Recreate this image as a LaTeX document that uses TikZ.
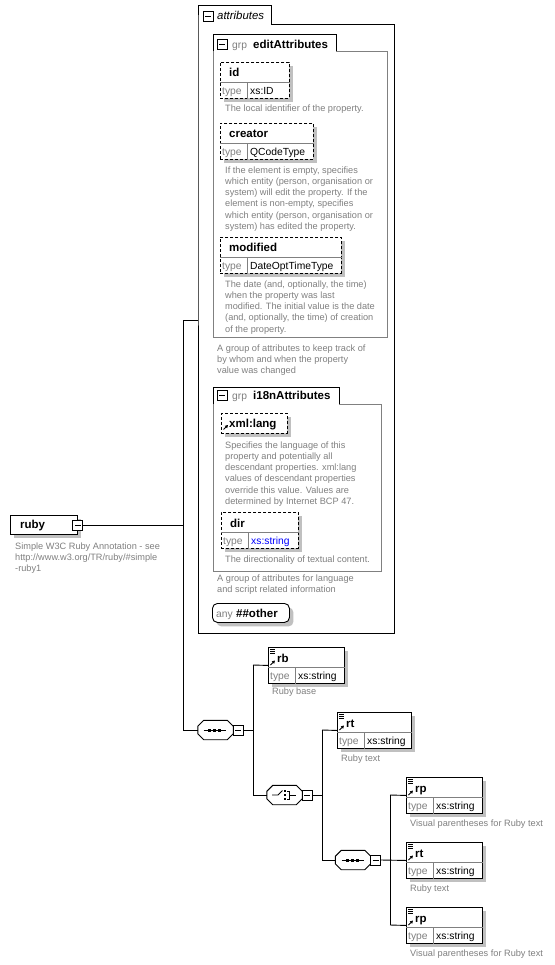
\documentclass[tikz,border=0pt]{standalone}
\usepackage{fontspec}
\setmainfont{Liberation Sans}
\usetikzlibrary{arrows.meta}
\definecolor{descgray}{RGB}{128,128,128}
\definecolor{shadowgray}{RGB}{192,192,192}
\definecolor{grpgray}{RGB}{128,128,128}
\definecolor{xsblue}{RGB}{0,0,255}
\tikzset{
  ln/.style={line width=0.9pt},
  grpline/.style={line width=0.9pt, draw=grpgray},
  divline/.style={line width=0.8pt, draw=grpgray},
  shadowed/.style={preaction={draw=none, fill=shadowgray, transform canvas={xshift=4pt,yshift=-4pt}}},
  elembox/.style={draw, line width=0.9pt, fill=white, inner sep=0, shadowed},
  attrbox/.style={elembox, dash pattern=on 3pt off 2pt},
  namet/.style={font=\fontsize{11.5}{13}\selectfont\bfseries, inner sep=0, anchor=base west},
  italt/.style={font=\fontsize{11.4}{13}\selectfont\itshape, inner sep=0, anchor=base west},
  typet/.style={font=\fontsize{10.3}{12}\selectfont, text=descgray, inner sep=0, anchor=base west},
  valt/.style={font=\fontsize{10.3}{12}\selectfont, inner sep=0, anchor=base west},
  desct/.style={font=\fontsize{9.2}{11.2}\selectfont, text=descgray, inner sep=0, anchor=north west, align=left},
  minusbox/.style={draw, line width=0.9pt, fill=white, minimum size=10pt, inner sep=0,
    path picture={\draw[line width=0.9pt] ([xshift=-3pt]path picture bounding box.center) -- ([xshift=3pt]path picture bounding box.center);}},
  compbase/.style={inner sep=0, minimum width=35pt, minimum height=19pt},
}
% typed element / attribute box: #1 name, #2 style, #3 x, #4 y, #5 width, #6 label, #7 type value
\newcommand\tbox[7]{%
  \node[#2, minimum width=#5pt, minimum height=36pt, anchor=north west] (#1) at (#3,#4) {};
  \draw[divline] ([yshift=-20.5pt]#1.north west) -- ([yshift=-20.5pt]#1.north east);
  \draw[divline] ([xshift=27pt,yshift=-20.5pt]#1.north west) -- ([xshift=27pt]#1.south west);
  \node[namet] (#1-n) at ([xshift=9pt,yshift=-15pt]#1.north west) {#6};
  \node[typet] (#1-t) at ([xshift=2pt,yshift=4pt]#1.south west) {type};
  \node[valt] (#1-v) at ([xshift=30pt,yshift=4pt]#1.south west) {#7};
}
% reference / element icons
\newcommand\elemicons[1]{%
  \foreach \d in {2.5,4.5,6.5}
    \draw[line width=0.7pt] ([xshift=2pt,yshift=-\d pt]#1.north west) -- ([xshift=7pt,yshift=-\d pt]#1.north west);
  \refarrow{#1}{18}
}
\newcommand\refarrow[2]{%
  \draw[line width=0.9pt,-{Triangle[length=3pt,width=3.2pt]}] ([xshift=2.5pt,yshift=-#2 pt]#1.north west) -- ([xshift=7pt,yshift=-#2 pt+4.5pt]#1.north west);
}
% octagonal compositor: #1 name, #2 cx, #3 cy
\newcommand\octpath[1]{([xshift=6pt]#1.north west) -- ([xshift=-6pt]#1.north east) -- ([yshift=-6pt]#1.north east) -- ([yshift=6pt]#1.south east) -- ([xshift=-6pt]#1.south east) -- ([xshift=6pt]#1.south west) -- ([yshift=6pt]#1.south west) -- ([yshift=-6pt]#1.north west) -- cycle}
\newcommand\compshape[3]{%
  \node[compbase] (#1) at (#2,#3) {};
  \begin{scope}[shift={(4,4)}]
    \fill[shadowgray] \octpath{#1};
  \end{scope}
  \draw[ln, fill=white] \octpath{#1};
}
\newcommand\seqsym[2]{%
  \draw[line width=0.9pt] (#1-11,#2) -- (#1+11,#2);
  \foreach \dx in {-5,0,5} \fill ({#1+\dx-1.5},{#2-1.5}) rectangle +(3,3);
}
\newcommand\chosym[2]{%
  \draw[line width=0.9pt] (#1-12,#2) -- (#1-6,#2) -- (#1-1.5,#2-4.5);
  \foreach \dy in {-4,0,4} \fill ({#1-0.3},{#2+\dy-1.3}) rectangle +(2.6,2.6);
  \draw[line width=0.8pt] (#1+3,#2-4) -- (#1+5.5,#2-4) -- (#1+5.5,#2+4) -- (#1+3,#2+4);
  \draw[line width=0.9pt] (#1+5.5,#2) -- (#1+12,#2);
}
\begin{document}
\begin{tikzpicture}[x=1pt,y=-1pt]
\useasboundingbox (0,0) rectangle (554,965);
\fill[white] (0,0) rectangle (554,965);

% ---------- attributes container ----------
\node[inner sep=0,minimum width=196pt,minimum height=609pt,anchor=north west] (attr) at (198,24) {};
\draw[ln] (attr.north west) -- (198,5) -- (271,5) -- (271,24) -- (attr.north east) -- (attr.south east) -- (attr.south west) -- cycle;
\node[minusbox] (attrm) at (208,16) {};
\node[italt] (attrt) at (217,20) {attributes};

% ---------- editAttributes group ----------
\node[inner sep=0,minimum width=174pt,minimum height=286pt,anchor=north west] (edg) at (213,51) {};
\draw[grpline] (336,51) -- (edg.north east) -- (edg.south east) -- (edg.south west) -- (edg.north west);
\draw[ln] (edg.north west) -- (213,34) -- (336,34) -- (336,51);
\node[minusbox] (edgm) at (222,44.5) {};
\node[typet] (edgg) at (232,48.5) {grp};
\node[namet] (edgt) at (253,48.5) {editAttributes};

\tbox{id}{attrbox}{220}{62}{69}{id}{xs:ID}
\node[desct] (idd) at (225,104.5) {The local identifier of the property.};

\tbox{creator}{attrbox}{220}{123}{93}{creator}{QCodeType}
\node[desct] (creatord) at (225,166.5) {If the element is empty, specifies\\which entity (person, organisation or\\system) will edit the property. If the\\element is non-empty, specifies\\which entity (person, organisation or\\system) has edited the property.};

\tbox{modified}{attrbox}{220}{237}{121}{modified}{DateOptTimeType}
\node[desct] (modifiedd) at (225,280.5) {The date (and, optionally, the time)\\when the property was last\\modified. The initial value is the date\\(and, optionally, the time) of creation\\of the property.};

\node[desct] (edgd) at (217,344.5) {A group of attributes to keep track of\\by whom and when the property\\value was changed};

% ---------- i18nAttributes group ----------
\node[inner sep=0,minimum width=168pt,minimum height=167pt,anchor=north west] (i18) at (213,404) {};
\draw[grpline] (339,404) -- (i18.north east) -- (i18.south east) -- (i18.south west) -- (i18.north west);
\draw[ln] (i18.north west) -- (213,387) -- (339,387) -- (339,404);
\node[minusbox] (i18m) at (222,395) {};
\node[typet] (i18g) at (232,399) {grp};
\node[namet] (i18t) at (253,399) {i18nAttributes};

\node[attrbox, minimum width=66pt, minimum height=19.5pt, anchor=north west] (xl) at (221,413) {};
\node[namet] (xl-n) at (229,427) {xml:lang};
\refarrow{xl}{16.5}
\node[desct] (xld) at (225,441.5) {Specifies the language of this\\property and potentially all\\descendant properties. xml:lang\\values of descendant properties\\override this value. Values are\\determined by Internet BCP 47.};

\tbox{dir}{attrbox}{221}{512}{77}{dir}{\textcolor{xsblue}{xs:string}}
\node[desct] (dird) at (225,555.5) {The directionality of textual content.};

\node[desct] (i18d) at (217,574.5) {A group of attributes for language\\and script related information};

% ---------- any ##other ----------
\node[elembox, rounded corners=5pt, minimum width=77pt, minimum height=19pt, anchor=north west] (any) at (212,603) {};
\node[typet] (any-t) at (216,617) {any};
\node[namet] (any-n) at (236,617) {\#\#other};

% ---------- ruby ----------
\node[elembox, minimum width=67pt, minimum height=19pt, anchor=north west] (ruby) at (10,515) {};
\node[namet] (ruby-n) at (20,528.5) {ruby};
\node[minusbox] (rubym) at (ruby.east) {};
\node[desct] (rubyd) at (15,542.5) {Simple W3C Ruby Annotation - see\\http://www.w3.org/TR/ruby/\#simple\\-ruby1};

% ---------- sequence 1 ----------
\compshape{seq1}{215.5}{730}
\seqsym{214.5}{730}
\node[minusbox] (seq1m) at (238,730) {};

% rb
\tbox{rb}{elembox}{268}{647}{76}{rb}{xs:string}
\elemicons{rb}
\node[desct] (rbd) at (272,687.5) {Ruby base};

% ---------- choice ----------
\compshape{cho}{284.5}{795}
\chosym{284}{795}
\node[minusbox] (chom) at (307,795) {};

% rt 1
\tbox{rt1}{elembox}{337}{712}{74}{rt}{xs:string}
\elemicons{rt1}
\node[desct] (rt1d) at (341,754.5) {Ruby text};

% ---------- sequence 2 ----------
\compshape{seq2}{353}{860}
\seqsym{352.5}{860}
\node[minusbox] (seq2m) at (375.5,860) {};

\tbox{rp1}{elembox}{406}{777}{76}{rp}{xs:string}
\elemicons{rp1}
\node[desct] (rp1d) at (410,819.5) {Visual parentheses for Ruby text};

\tbox{rt2}{elembox}{406}{842}{76}{rt}{xs:string}
\elemicons{rt2}
\node[desct] (rt2d) at (410,884.5) {Ruby text};

\tbox{rp2}{elembox}{406}{907}{76}{rp}{xs:string}
\elemicons{rp2}
\node[desct] (rp2d) at (410,949.5) {Visual parentheses for Ruby text};

% ---------- connectors ----------
\coordinate (j1a) at (183,320);
\coordinate (j1b) at (183,730);
\draw[ln] (rubym.east) -- (rubym.east -| j1a);
\draw[ln] (j1a) -- (j1b);
\draw[ln] (j1a) -- (j1a -| attr.west);
\draw[ln] (j1b) -- (seq1.west);

\coordinate (j2a) at (253,665);
\coordinate (j2b) at (253,795);
\draw[ln] (seq1m.east) -- (seq1m.east -| j2a);
\draw[ln] (j2a) -- (j2b);
\draw[ln] (j2a) -- (rb.west);
\draw[ln] (j2b) -- (cho.west);

\coordinate (j3a) at (322,730);
\coordinate (j3b) at (322,860);
\draw[ln] (chom.east) -- (chom.east -| j3a);
\draw[ln] (j3a) -- (j3b);
\draw[ln] (j3a) -- (rt1.west);
\draw[ln] (j3b) -- (seq2.west);

\coordinate (j4a) at (390,795);
\coordinate (j4b) at (390,925);
\draw[ln] (seq2m.east) -- (rt2.west);
\draw[ln] (j4a) -- (j4b);
\draw[ln] (j4a) -- (rp1.west);
\draw[ln] (j4b) -- (rp2.west);
\end{tikzpicture}
\end{document}
